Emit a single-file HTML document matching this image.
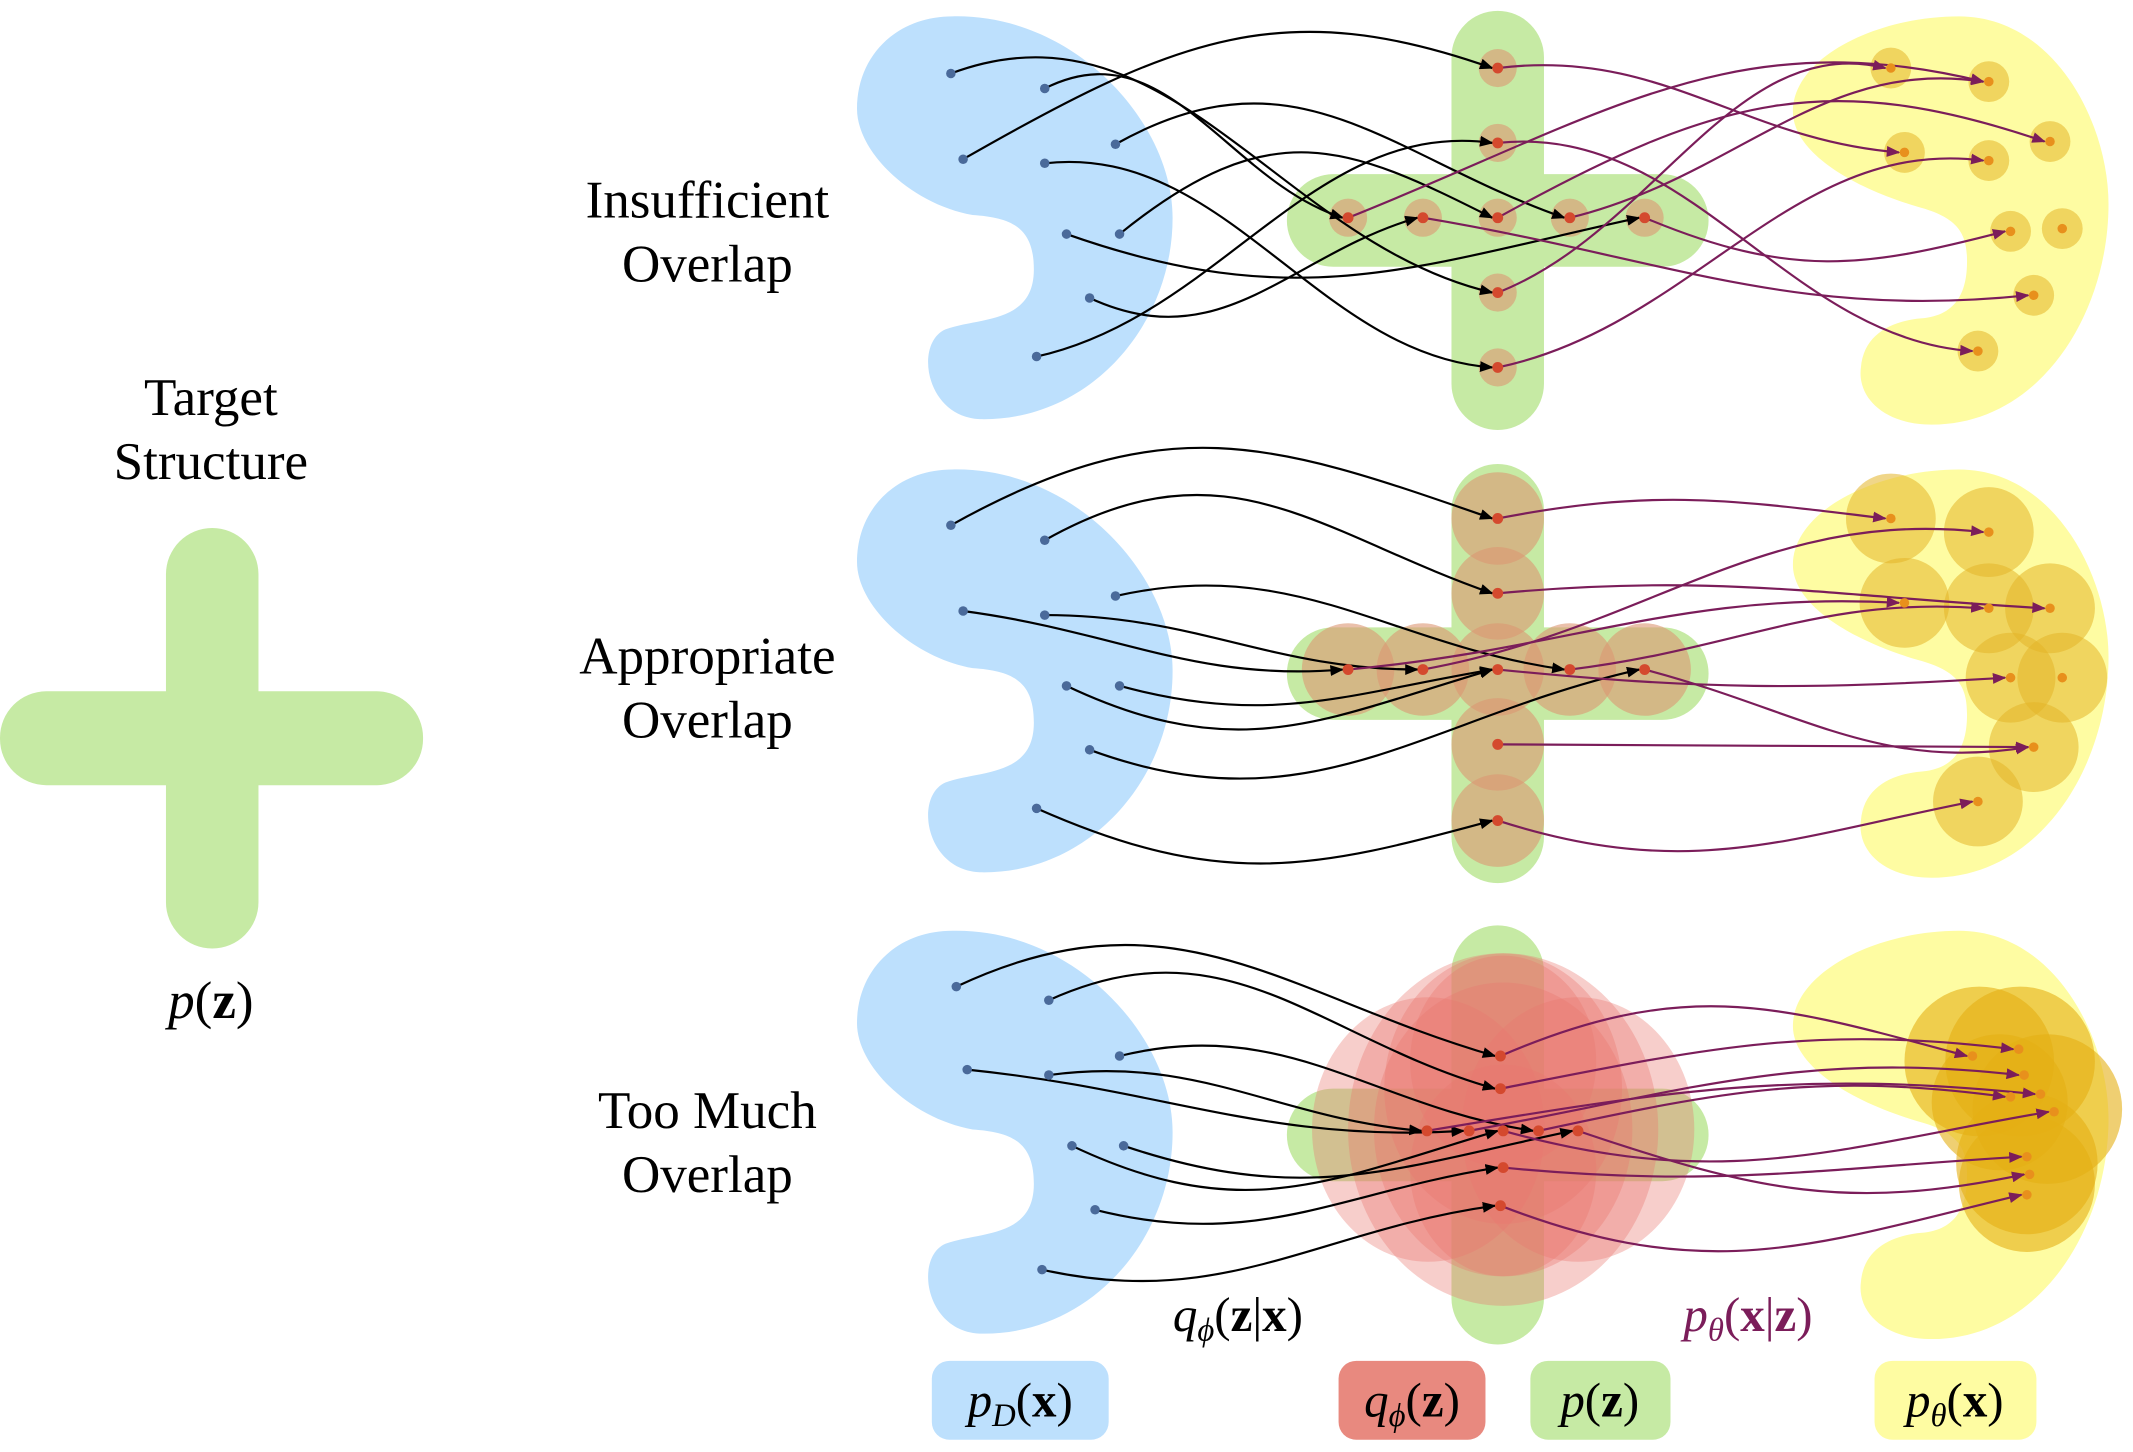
<!DOCTYPE html>
<html><head><meta charset="utf-8">
<style>
html,body{margin:0;padding:0;background:#fff;}
svg{display:block;}
text{font-family:"Liberation Serif",serif;}
</style></head>
<body>
<svg id="s" width="2133" height="1452" viewBox="0 0 1568 1067" preserveAspectRatio="none" xmlns="http://www.w3.org/2000/svg">
<defs>
<marker id="ab" markerWidth="10" markerHeight="8" refX="9" refY="4" orient="auto" markerUnits="userSpaceOnUse"><path d="M0,0 L10,4 L0,8 Z" fill="#000"/></marker>
<marker id="ap" markerWidth="10" markerHeight="8" refX="9" refY="4" orient="auto" markerUnits="userSpaceOnUse"><path d="M0,0 L10,4 L0,8 Z" fill="#7b1d5a"/></marker>
<g id="blue"><path d="M700 12 C790 10 862 90 862 160 C862 240 800 310 720 308 C680 306 672 252 695 242 C720 233 760 238 760 198 C760 168 745 160 715 158 C670 150 630 112 630 80 C630 40 660 12 700 12 Z" fill="#bde0fd"/></g>
<g id="yel"><path d="M1440 12 C1510 12 1550 90 1550 150 C1550 230 1500 312 1420 312 C1385 312 1365 292 1368 270 C1370 246 1390 236 1412 234 C1440 232 1446 212 1446 192 C1446 172 1440 160 1410 152 C1362 138 1318 112 1318 82 C1318 42 1380 12 1440 12 Z" fill="#fefca2"/></g>
<g id="cross"><rect x="1067" y="8" width="68" height="308" rx="34" fill="#c6eaa4"/><rect x="946" y="128" width="310" height="68" rx="34" fill="#c6eaa4"/></g>
</defs>
<rect x="122" y="388" width="68" height="309" rx="34" fill="#c6eaa4"/>
<rect x="0" y="508" width="311" height="69" rx="34" fill="#c6eaa4"/>
<text x="155" y="305" font-size="39" text-anchor="middle">Target</text>
<text x="155" y="352" font-size="39" text-anchor="middle">Structure</text>
<text x="155" y="748" font-size="39" text-anchor="middle"><tspan font-style="italic">p</tspan>(<tspan font-weight="bold">z</tspan>)</text>
<text x="520" y="160" font-size="39" text-anchor="middle">Insufficient</text>
<text x="520" y="207" font-size="39" text-anchor="middle">Overlap</text>
<text x="520" y="495" font-size="39" text-anchor="middle">Appropriate</text>
<text x="520" y="542" font-size="39" text-anchor="middle">Overlap</text>
<text x="520" y="829" font-size="39" text-anchor="middle">Too Much</text>
<text x="520" y="876" font-size="39" text-anchor="middle">Overlap</text>
<g id="rows"></g>
<text x="910" y="978" font-size="36" text-anchor="middle"><tspan font-style="italic">q</tspan><tspan font-style="italic" font-size="24" dy="7">ϕ</tspan><tspan dy="-7">(</tspan><tspan font-weight="bold">z</tspan>|<tspan font-weight="bold">x</tspan>)</text>
<text x="1285" y="978" font-size="36" text-anchor="middle" fill="#7b1d5a"><tspan font-style="italic">p</tspan><tspan font-style="italic" font-size="24" dy="7">θ</tspan><tspan dy="-7">(</tspan><tspan font-weight="bold">x</tspan>|<tspan font-weight="bold">z</tspan>)</text>
<rect x="685" y="1000" width="130" height="58" rx="13" fill="#bde0fd"/>
<text x="750" y="1041" font-size="36" text-anchor="middle"><tspan font-style="italic">p</tspan><tspan font-style="italic" font-size="24" dy="7">D</tspan><tspan dy="-7">(</tspan><tspan font-weight="bold">x</tspan>)</text>
<rect x="984" y="1000" width="108" height="58" rx="13" fill="#e8897f"/>
<text x="1038" y="1041" font-size="36" text-anchor="middle"><tspan font-style="italic">q</tspan><tspan font-style="italic" font-size="24" dy="7">ϕ</tspan><tspan dy="-7">(</tspan><tspan font-weight="bold">z</tspan>)</text>
<rect x="1125" y="1000" width="103" height="58" rx="13" fill="#c6eaa4"/>
<text x="1176" y="1041" font-size="36" text-anchor="middle"><tspan font-style="italic">p</tspan>(<tspan font-weight="bold">z</tspan>)</text>
<rect x="1378" y="1000" width="119" height="58" rx="13" fill="#fefca2"/>
<text x="1437" y="1041" font-size="36" text-anchor="middle"><tspan font-style="italic">p</tspan><tspan font-style="italic" font-size="24" dy="7">θ</tspan><tspan dy="-7">(</tspan><tspan font-weight="bold">x</tspan>)</text>
</svg>
<script>
var NS="http://www.w3.org/2000/svg",R=document.getElementById("rows");
function el(t,a,p){var e=document.createElementNS(NS,t);for(var k in a)e.setAttribute(k,a[k]);(p||R).appendChild(e);return e;}
function curve(a,b,k,col,m){k=k*1.5;var dx=b[0]-a[0];
 var d="M"+a[0]+" "+a[1]+" C"+(a[0]+dx*0.4)+" "+(a[1]-k)+" "+(b[0]-dx*0.4)+" "+(b[1]-k*0.6)+" "+(b[0]-4)+" "+b[1];
 el("path",{d:d,fill:"none",stroke:col,"stroke-width":1.6,"marker-end":"url(#"+m+")"});}
function row(dy,B,Rd,Y,eb,ep,mode){
 var g=el("g",{transform:"translate(0,"+dy+")"});
 el("use",{href:"#blue"},g);el("use",{href:"#yel"},g);el("use",{href:"#cross"},g);
 if(mode==3){
  [[1105,800,92],[1105,780,72],[1105,860,72],[1105,830,100],[1050,830,90],[1160,830,90],[1105,830,120]].forEach(function(c){
   el("ellipse",{cx:c[0],cy:c[1],rx:c[2]*0.95,ry:c[2]*1.08,fill:"rgba(232,120,110,0.36)"});});
 }
 Rd.forEach(function(p){var r=mode==1?14:(mode==2?34:0);if(r)el("circle",{cx:p[0],cy:p[1]+dy,r:r,fill:"rgba(220,150,115,0.6)"});});
 Y.forEach(function(p){var r=mode==1?15:(mode==2?33:0);if(r)el("circle",{cx:p[0],cy:p[1]+dy,r:r,fill:"rgba(228,180,40,0.55)"});});
 if(mode==3){[[1455,780,55],[1485,780,55],[1505,815,55],[1490,855,52],[1490,870,50],[1470,810,50]].forEach(function(c){el("circle",{cx:c[0],cy:c[1],r:c[2],fill:"rgba(228,175,20,0.6)"});});}
 eb.forEach(function(e){curve([B[e[0]][0],B[e[0]][1]+dy],[Rd[e[1]][0],Rd[e[1]][1]+dy],e[2],"#000","ab");});
 ep.forEach(function(e){curve([Rd[e[0]][0],Rd[e[0]][1]+dy],[Y[e[1]][0],Y[e[1]][1]+dy],e[2],"#7b1d5a","ap");});
 B.forEach(function(p){el("circle",{cx:p[0],cy:p[1]+dy,r:3.5,fill:"#4a6a9a"});});
 Rd.forEach(function(p){el("circle",{cx:p[0],cy:p[1]+dy,r:4,fill:"#d4492e"});});
 Y.forEach(function(p){el("circle",{cx:p[0],cy:p[1]+dy,r:3.5,fill:"#e8901c"});});
}
var B=[[699,54],[768,65],[708,117],[820,106],[768,120],[784,172],[823,172],[801,219],[762,262]];
var Rd=[[1101,50],[1101,105],[991,160],[1046,160],[1101,160],[1154,160],[1209,160],[1101,215],[1101,270]];
var Y=[[1390,50],[1462,60],[1400,112],[1507,104],[1462,118],[1478,170],[1516,168],[1495,217],[1454,258]];
row(0,B,Rd,Y,
 [[0,7,40],[1,2,30],[2,0,60],[3,5,50],[4,8,10],[6,4,60],[5,6,-40],[7,3,-30],[8,1,20]],
 [[0,2,10],[1,8,10],[2,1,50],[3,7,-20],[4,3,60],[7,0,30],[5,1,20],[6,5,-30],[8,4,20]],1);
var R2=[[1101,48],[1101,103],[991,159],[1046,159],[1101,159],[1154,159],[1209,159],[1101,214],[1101,270]];
var Y2=[[1390,48],[1462,58],[1400,110],[1462,114],[1507,114],[1478,165],[1516,165],[1495,216],[1454,256]];
row(333,B.map(function(p){return [p[0],p[1]-1];}),R2,Y2,
 [[0,0,60],[1,1,50],[2,2,-10],[4,3,0],[3,5,20],[5,4,-40],[6,4,-20],[7,6,-40],[8,8,-40]],
 [[0,0,15],[3,1,20],[2,2,10],[1,4,10],[5,3,10],[4,5,-10],[6,7,-20],[7,7,0],[8,8,-30]],2);
var B3=[[703,53],[771,63],[711,114],[823,104],[771,118],[788,170],[826,170],[805,217],[766,261]];
var R3=[[1103,104],[1103,128],[1049,159],[1080,159],[1105,159],[1131,159],[1160,159],[1105,186],[1103,214]];
var Y3=[[1450,104],[1484,99],[1488,118],[1478,134],[1500,132],[1510,145],[1490,178],[1492,191],[1490,206]];
row(672,B3,R3,Y3,
 [[0,0,50],[1,1,40],[3,5,20],[2,3,-10],[4,2,10],[5,4,-40],[6,6,-30],[7,7,-20],[8,8,-20]],
 [[0,0,40],[1,1,20],[2,4,20],[3,2,20],[5,3,20],[4,5,-30],[6,7,-30],[7,6,-10],[8,8,-40]],3);
</script>
</body></html>
